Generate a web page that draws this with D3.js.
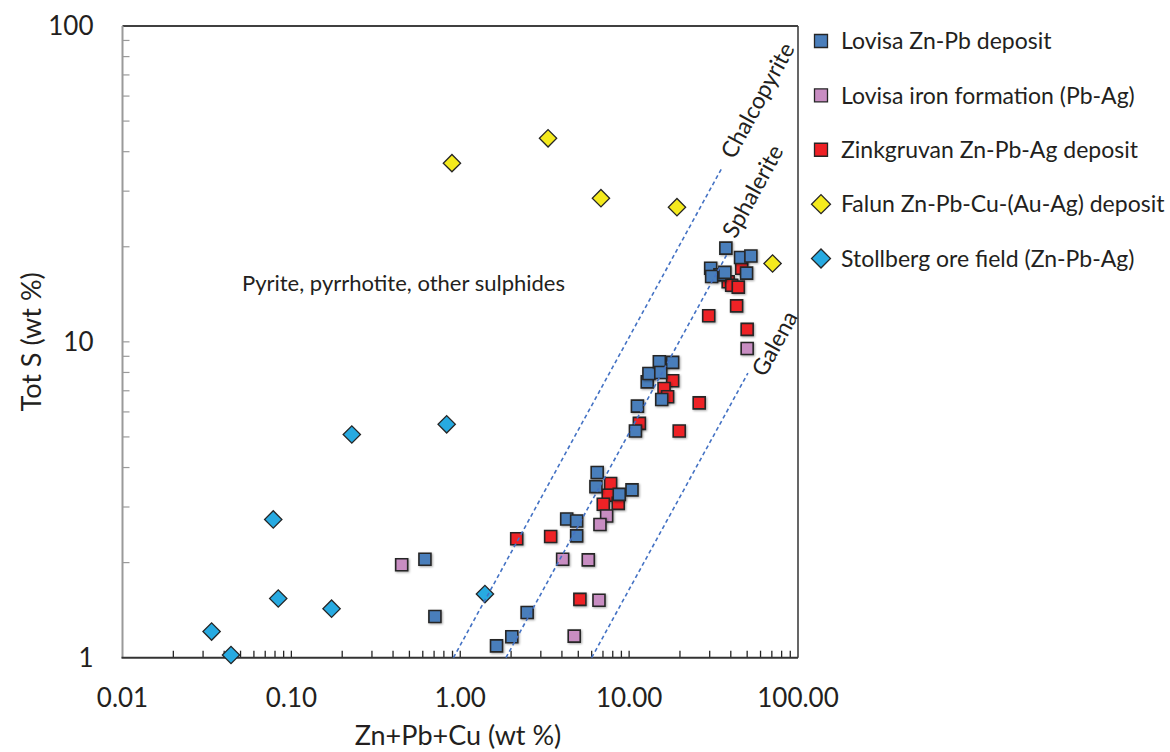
<!DOCTYPE html>
<html>
<head>
<meta charset="utf-8">
<script src="https://cdn.jsdelivr.net/npm/d3@7"></script>
<style>
  body { margin: 0; background: #fff; }
  svg { font-family: Lato, "Open Sans", sans-serif; }
</style>
</head>
<body>
<svg id="chart" width="1170" height="752"></svg>
<script>
// ---- data ----
const lovisaZnPb = [
  [0.618, 2.05], [0.708, 1.35], [1.64, 1.09], [2.02, 1.165], [2.49, 1.39],
  [4.27, 2.75], [4.89, 2.71], [4.89, 2.43], [6.47, 3.86], [6.36, 3.48],
  [8.74, 3.29], [10.4, 3.40], [10.9, 5.22], [11.2, 6.26], [12.8, 7.47],
  [13.1, 7.94], [15.1, 8.65], [15.4, 8.00], [18.1, 8.61], [15.6, 6.57],
  [37.4, 19.8], [45.7, 18.5], [52.6, 18.7], [30.4, 17.1], [34.5, 16.3],
  [30.8, 16.1], [36.9, 16.6], [49.6, 16.5]
];
const lovisaIronFm = [
  [0.450, 1.97], [4.04, 2.05], [5.73, 2.04], [6.63, 1.52], [4.73, 1.17],
  [7.36, 2.81], [6.72, 2.64], [50.0, 9.53]
];
const zinkgruvan = [
  [2.16, 2.38], [3.43, 2.42], [5.11, 1.53], [7.77, 3.56], [7.52, 3.27],
  [7.03, 3.06], [8.62, 3.08], [11.5, 5.52], [19.8, 5.22], [26.0, 6.41],
  [18.1, 7.53], [16.1, 7.12], [16.9, 6.70], [29.6, 12.1], [43.3, 13.0],
  [50.0, 10.95], [46.4, 17.1], [38.6, 15.5], [40.5, 15.1], [44.3, 14.9]
];
const falun = [
  [0.893, 36.8], [3.31, 44.1], [6.81, 28.5], [19.2, 26.7], [70.7, 17.7]
];
const stollberg = [
  [0.0337, 1.21], [0.0439, 1.02], [0.0781, 2.74], [0.0836, 1.54], [0.173, 1.43],
  [0.228, 5.09], [0.831, 5.48], [1.40, 1.59]
];

const seriesNames = [
  "Lovisa Zn-Pb deposit",
  "Lovisa iron formation (Pb-Ag)",
  "Zinkgruvan Zn-Pb-Ag deposit",
  "Falun Zn-Pb-Cu-(Au-Ag) deposit",
  "Stollberg ore field (Zn-Pb-Ag)"
];

// mineral reference lines: [x0, S0, x1, S1]
const mineralNames = ["Chalcopyrite", "Sphalerite", "Galena"];
const mineralLines = [
  [0.911, 1, 35.3, 35.4],
  [1.865, 1, 37.7, 18.8],
  [6.0, 1, 50.5, 7.96]
];
// label anchor (data coords)
const mineralLabelAt = [[41.8, 37.6], [42.7, 21.1], [63.7, 7.68]];

const xTicks = [0.01, 0.1, 1, 10, 100];
const xTickLabels = ["0.01", "0.10", "1.00", "10.00", "100.00"];
const yTicks = [1, 10, 100];
const yTickLabels = ["1", "10", "100"];

const xTitle = "Zn+Pb+Cu (wt %)";
const yTitle = "Tot S (wt %)";
const fieldNote = "Pyrite, pyrrhotite, other sulphides";
const fieldNoteAt = [0.461, 14.5];

// ---- layout & styles ----
const margin = { top: 26, left: 122.5, right: 372, bottom: 94.3 };
const W = 1170, H = 752;
const iw = W - margin.left - margin.right;
const ih = H - margin.top - margin.bottom;

const styles = [
  { fill: "#4a7ebb", shape: "square" },
  { fill: "#c88dc2", shape: "square" },
  { fill: "#ee2025", shape: "square" },
  { fill: "#f4ea1d", shape: "diamond" },
  { fill: "#27aae1", shape: "diamond" }
];

const svg = d3.select("#chart");
const defs = svg.append("defs");
const shadow = defs.append("filter").attr("id", "shadow")
  .attr("x", "-30%").attr("y", "-30%").attr("width", "160%").attr("height", "160%");
shadow.append("feDropShadow")
  .attr("dx", 1).attr("dy", 1).attr("stdDeviation", 0.9)
  .attr("flood-color", "#000").attr("flood-opacity", 0.35);

const g = svg.append("g").attr("transform", `translate(${margin.left},${margin.top})`);

const x = d3.scaleLog().domain([0.01, 100]).range([0, iw]);
const y = d3.scaleLog().domain([1, 100]).range([ih, 0]);

// frame: top + right
g.append("line").attr("x1", 0).attr("x2", iw).attr("y1", 0).attr("y2", 0)
  .attr("stroke", "#404040").attr("stroke-width", 1.8);
g.append("line").attr("x1", iw).attr("x2", iw).attr("y1", 0).attr("y2", ih)
  .attr("stroke", "#404040").attr("stroke-width", 1.6);

// y axis (grey), minor ticks inside
const yMinor = y.ticks().filter(v => v > 1 && v < 100);
g.selectAll("line.ytick").data(yMinor).enter().append("line")
  .attr("class", "ytick")
  .attr("x1", 0).attr("x2", 7)
  .attr("y1", d => y(d)).attr("y2", d => y(d))
  .attr("stroke", "#9a9a9a").attr("stroke-width", 1.2);
g.append("line").attr("x1", 0).attr("x2", 0).attr("y1", 0).attr("y2", ih)
  .attr("stroke", "#9a9a9a").attr("stroke-width", 2);

// x axis (dark), ticks inside
const xMinor = x.ticks().filter(v => v > 0.01 && v < 100);
g.selectAll("line.xtick").data(xMinor).enter().append("line")
  .attr("class", "xtick")
  .attr("x1", d => x(d)).attr("x2", d => x(d))
  .attr("y1", ih).attr("y2", ih - 7)
  .attr("stroke", "#262626").attr("stroke-width", 1.3);
g.append("line").attr("x1", -1).attr("x2", iw).attr("y1", ih).attr("y2", ih)
  .attr("stroke", "#333").attr("stroke-width", 2);

// tick labels
g.selectAll("text.xl").data(xTicks).enter().append("text")
  .attr("class", "xl")
  .attr("x", d => x(d)).attr("y", ih + 49)
  .attr("text-anchor", "middle")
  .style("font-size", "26px").attr("fill", "#231f20")
  .text((d, i) => xTickLabels[i]);
g.selectAll("text.yl").data(yTicks).enter().append("text")
  .attr("class", "yl")
  .attr("x", -29).attr("y", d => y(d))
  .attr("dy", "0.35em")
  .attr("text-anchor", "end")
  .style("font-size", "26px").attr("fill", "#231f20")
  .text((d, i) => yTickLabels[i]);

// axis titles
svg.append("text")
  .attr("x", 458).attr("y", 745)
  .attr("text-anchor", "middle")
  .style("font-size", "27px").attr("fill", "#231f20")
  .text(xTitle);
svg.append("text")
  .attr("transform", `translate(41,${margin.top + ih / 2}) rotate(-90)`)
  .attr("text-anchor", "middle")
  .style("font-size", "27px").attr("fill", "#231f20")
  .text(yTitle);

// field note
g.append("text")
  .attr("x", x(fieldNoteAt[0])).attr("y", y(fieldNoteAt[1]))
  .attr("text-anchor", "middle")
  .style("font-size", "22px").attr("fill", "#231f20")
  .text(fieldNote);

// markers
const squareSym = d3.symbol(d3.symbolSquare, 144);
const diamondSym = d3.symbol(d3.symbolSquare, 150);
const allSeries = [lovisaZnPb, lovisaIronFm, zinkgruvan, falun, stollberg];
const drawOrder = [2, 1, 0, 3, 4];

drawOrder.forEach(si => {
  const st = styles[si];
  const sel = g.append("g").attr("class", "series-" + si)
    .selectAll("path").data(allSeries[si]).enter().append("path")
    .attr("fill", st.fill)
    .attr("stroke", "#262626");
  if (st.shape === "square") {
    sel.attr("d", squareSym)
      .attr("stroke-width", 1.6)
      .attr("filter", "url(#shadow)")
      .attr("transform", d => `translate(${x(d[0])},${y(d[1])})`);
  } else {
    sel.attr("d", diamondSym)
      .attr("stroke-width", 1.3)
      .attr("transform", d => `translate(${x(d[0])},${y(d[1])}) rotate(45)`);
  }
});

// mineral lines (on top)
g.selectAll("line.mineral").data(mineralLines).enter().append("line")
  .attr("class", "mineral")
  .attr("x1", d => x(d[0])).attr("y1", d => y(d[1]))
  .attr("x2", d => x(d[2])).attr("y2", d => y(d[3]))
  .attr("stroke", "#4472c4").attr("stroke-width", 1.6)
  .attr("stroke-dasharray", "4,3");

const angle = -Math.atan(((y(1) - y(10)) / (x(10) - x(1))) * 0.976) * 180 / Math.PI;
g.selectAll("text.mineral").data(mineralNames).enter().append("text")
  .attr("class", "mineral")
  .attr("transform", (d, i) => `translate(${x(mineralLabelAt[i][0])},${y(mineralLabelAt[i][1])}) rotate(${angle})`)
  .style("font-size", "23px").attr("fill", "#231f20")
  .text(d => d);

// legend
const legend = svg.append("g").attr("transform", "translate(821,41)");
const rowY = d3.scalePoint().domain(d3.range(seriesNames.length)).range([0, 217.5]);
const rows = legend.selectAll("g.row").data(seriesNames).enter().append("g")
  .attr("class", "row")
  .attr("transform", (d, i) => `translate(0,${rowY(i)})`);
rows.append("path")
  .attr("d", (d, i) => styles[i].shape === "square"
    ? d3.symbol(d3.symbolSquare, 169)() : d3.symbol(d3.symbolSquare, 180)())
  .attr("transform", (d, i) => styles[i].shape === "square" ? null : "rotate(45)")
  .attr("fill", (d, i) => styles[i].fill)
  .attr("stroke", "#262626").attr("stroke-width", 1.3);
rows.append("text")
  .attr("x", 20).attr("dy", "0.36em")
  .style("font-size", "23px").attr("fill", "#231f20")
  .text(d => d);
</script>
</body>
</html>
